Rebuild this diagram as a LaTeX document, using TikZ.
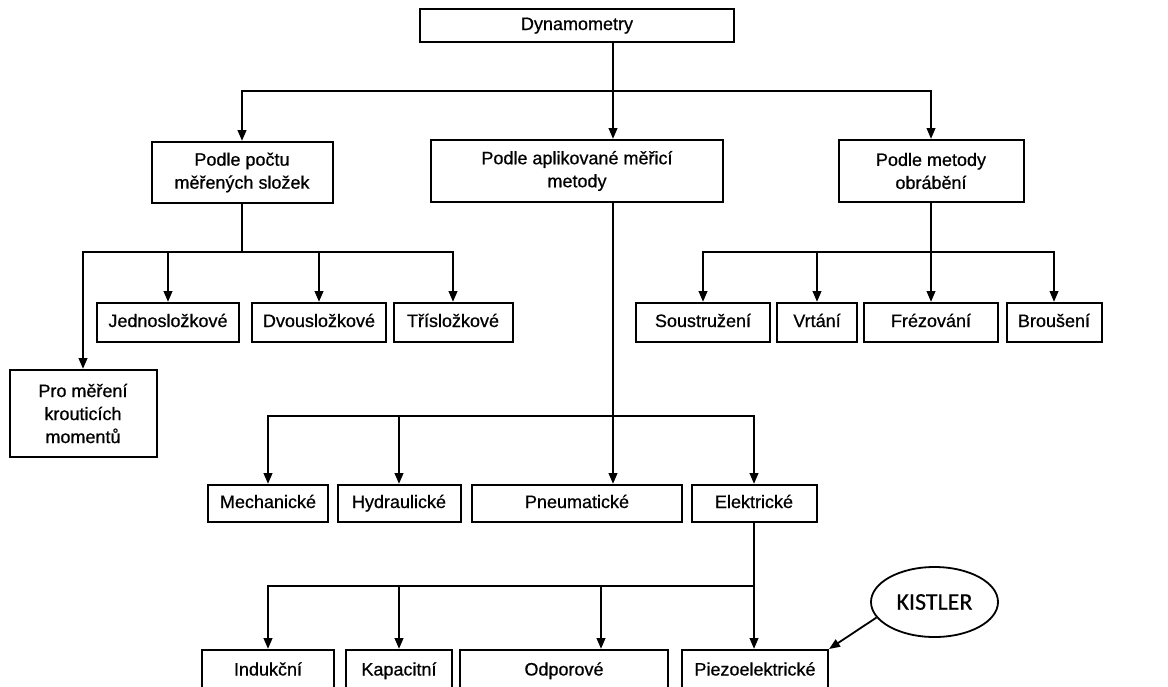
\documentclass[tikz,border=0pt]{standalone}
\usepackage{fontspec}
\setmainfont{Liberation Sans}
\newfontfamily\boxfont{Liberation Sans}[FakeBold=0.6]
\newfontfamily\kistlerfont{Carlito}[FakeBold=0.4]
\usetikzlibrary{arrows.meta,shapes.geometric}
\begin{document}
\begin{tikzpicture}[x=1pt,y=-1pt,
  box/.style={draw,line width=2pt,rectangle,inner sep=0pt,align=center,
    font=\boxfont\fontsize{18}{23}\selectfont},
  one/.style={box,text height=13pt,text depth=4pt},
  conn/.style={line width=2.3pt},
  arr/.style={line width=2.3pt,-{Triangle[length=11pt,width=8.5pt]}}]
\useasboundingbox (0,0) rectangle (1168,686);
\clip (0,0) rectangle (1168,686);
% nodes
\node[one,minimum width=314pt,minimum height=33pt] (dyn) at (577,25.5) {Dynamometry};
\node[box,minimum width=181pt,minimum height=61pt] (b1) at (242,172.5) {Podle počtu\\měřených složek};
\node[box,minimum width=292pt,minimum height=62pt] (b2) at (577,171) {Podle aplikované měřicí\\metody};
\node[box,minimum width=185pt,minimum height=62pt] (b3) at (931,171) {Podle metody\\obrábění};
\node[one,minimum width=142pt,minimum height=39pt] (jed) at (168,322.5) {Jednosložkové};
\node[one,minimum width=134pt,minimum height=39pt] (dvo) at (319,322.5) {Dvousložkové};
\node[one,minimum width=119pt,minimum height=39pt] (tri) at (453,322.5) {Třísložkové};
\node[box,minimum width=147pt,minimum height=87pt] (pro) at (83,413.5) {Pro měření\\krouticích\\momentů};
\node[one,minimum width=134pt,minimum height=39pt] (sou) at (703,322.5) {Soustružení};
\node[one,minimum width=80pt,minimum height=39pt] (vrt) at (817,322.5) {Vrtání};
\node[one,minimum width=134pt,minimum height=39pt] (fre) at (931,322.5) {Frézování};
\node[one,minimum width=95pt,minimum height=39pt] (bro) at (1054,322.5) {Broušení};
\node[one,minimum width=120pt,minimum height=37pt] (mech) at (268,503.5) {Mechanické};
\node[one,minimum width=123pt,minimum height=37pt] (hyd) at (399,503.5) {Hydraulické};
\node[one,minimum width=210pt,minimum height=37pt] (pne) at (577,503.5) {Pneumatické};
\node[one,minimum width=125pt,minimum height=37pt] (ele) at (754,503.5) {Elektrické};
\node[one,minimum width=132pt,minimum height=42pt] (ind) at (268,671) {Indukční};
\node[one,minimum width=106pt,minimum height=42pt] (kap) at (399,671) {Kapacitní};
\node[one,minimum width=208pt,minimum height=42pt] (odp) at (564,671) {Odporové};
\node[one,minimum width=146pt,minimum height=42pt] (pie) at (755,671) {Piezoelektrické};
\node[draw,line width=1.8pt,ellipse,minimum width=127pt,minimum height=70pt,inner sep=0pt,
  font=\kistlerfont\fontsize{24}{28}\selectfont] (kis) at (934.5,602) {KISTLER};
% junction coordinates
\coordinate (sp) at (613,0);
\coordinate (h0) at (613,91);
\coordinate (j1) at (242,252);
\coordinate (j3) at (931,252);
\coordinate (m1) at (613,416);
\coordinate (e1) at (754,586);
\coordinate (odpx) at (601,0);
% top level
\draw[conn] (dyn.south -| sp) -- (h0);
\draw[arr] (h0) -- (b2.north -| sp);
\draw[arr] (h0) -| (b1);
\draw[arr] (h0) -| (b3);
% left subtree
\draw[conn] (b1.south -| j1) -- (j1);
\draw[arr] (j1) -| (pro);
\draw[arr] (j1) -| (jed);
\draw[arr] (j1) -| (dvo);
\draw[arr] (j1) -| (tri);
% right subtree
\draw[conn] (b3.south -| j3) -- (j3);
\draw[arr] (j3) -| (sou);
\draw[arr] (j3) -| (vrt);
\draw[arr] (j3) -- (fre);
\draw[arr] (j3) -| (bro);
% middle subtree
\draw[conn] (b2.south -| sp) -- (m1);
\draw[arr] (m1) -| (mech);
\draw[arr] (m1) -| (hyd);
\draw[arr] (m1) -- (pne.north -| m1);
\draw[arr] (m1) -| (ele);
% electric subtree
\draw[conn] (ele.south -| e1) -- (e1);
\draw[arr] (e1) -| (ind);
\draw[arr] (e1) -| (kap);
\draw[arr] (e1) -| (odp.north -| odpx);
\draw[arr] (e1) -- (pie.north -| e1);
% kistler
\draw[line width=1.8pt,-{Triangle[length=11pt,width=8.5pt]}] (kis.195) -- (pie.north east);
\end{tikzpicture}
\end{document}
